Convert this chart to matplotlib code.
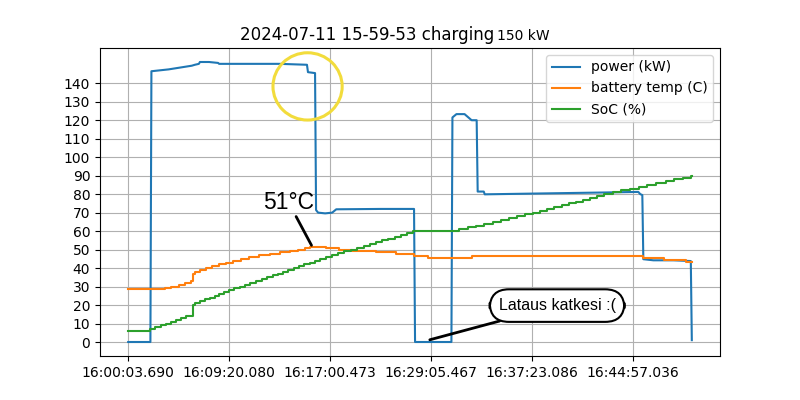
import numpy as np
import matplotlib
matplotlib.use("Agg")
import matplotlib.pyplot as plt
from matplotlib.patches import Ellipse

# sample index -> value (one sample per log row)
power_idx = [0, 22, 23, 40, 63, 66, 70, 71, 80, 89, 90, 150, 177, 178, 185, 186,
             188, 195, 202, 206, 250, 283, 284, 320, 321, 325, 333, 340, 345, 346,
             352, 353, 400, 460, 505, 507, 509, 510, 520, 540, 557, 558]
power_val = [0, 0, 146.5, 147.5, 149.5, 150, 150.5, 151.5, 151.5, 151, 150.5, 150.5, 150, 146, 145.5, 71.4,
             70, 69.6, 70, 71.8, 72, 72, 0, 0, 121.5, 123.3, 123.3, 120, 120, 81.4,
             81.4, 79.9, 80.3, 80.8, 81.2, 80, 79.5, 44.8, 44.2, 44.2, 43.8, 1]

temp_idx = [0, 36, 42, 50, 56, 62, 64, 66, 71, 77, 83, 90, 97, 104, 112, 120, 130,
            140, 150, 160, 168, 175, 180, 196, 209, 222, 245, 265, 283, 297, 340,
            510, 530, 552, 558]
temp_val = [28.5, 29, 30, 31, 32, 33, 37, 38, 39, 40, 41, 42, 43, 44, 45, 46, 47,
            47.5, 48.5, 49.5, 50, 51, 51.5, 51, 50, 49.5, 48.5, 47.5, 46.5, 45.5, 46.5,
            45.5, 44.5, 43.5, 43.5]

soc_idx = [0, 22, 27, 32, 37, 42, 47, 52, 57, 64, 66, 71, 76, 81, 86, 90, 95, 100,
           105, 111, 116, 121, 127, 132, 137, 143, 148, 153, 158, 164, 169, 174, 180, 185, 190,
           196, 202, 208, 214, 221, 227, 233, 239, 245, 251, 257, 264, 270, 276, 282,
           328, 336, 344, 352, 361, 369, 377, 385, 393, 401,
           408, 415, 422, 429, 436, 443, 450, 457, 464, 471,
           480, 488, 497, 506, 514, 523, 532, 540, 549, 557, 558]
soc_val = [6, 7, 8, 9, 10, 11, 12, 13, 14, 20, 21, 22, 23, 24, 25, 26, 27, 28,
           29, 30, 31, 32, 33, 34, 35, 36, 37, 38, 39, 40, 41, 42, 43, 44, 45,
           46, 47, 48, 49, 50, 51, 52, 53, 54, 55, 56, 57, 58, 59, 60,
           61, 62, 63, 64, 65, 66, 67, 68, 69, 70,
           71, 72, 73, 74, 75, 76, 77, 78, 79, 80,
           81, 82, 83, 84, 85, 86, 87, 88, 89, 90, 90]

tick_idx = [0, 100, 200, 300, 400, 500]
tick_labels = ["16:00:03.690", "16:09:20.080", "16:17:00.473",
               "16:29:05.467", "16:37:23.086", "16:44:57.036"]

fig, ax = plt.subplots(figsize=(8, 4), dpi=100)

ax.plot(power_idx, power_val, label="power (kW)")
ax.plot(temp_idx, temp_val, drawstyle="steps-post", label="battery temp (C)")
ax.plot(soc_idx, soc_val, drawstyle="steps-post", label="SoC (%)")

ax.set_xticks(tick_idx)
ax.set_xticklabels(tick_labels)
ax.set_yticks(range(0, 150, 10))
ax.grid(True)
ax.legend(loc="upper right")

# fix the view before the drawn-on marks
ax.autoscale_view()
ax.set_autoscale_on(False)

fig.text(240 / 800, 1 - 40 / 400, "2024-07-11 15-59-53 charging", fontsize=12, va="baseline")
fig.text(497 / 800, 1 - 40 / 400, "150 kW", fontsize=10, va="baseline")

ax.add_patch(Ellipse((177.6, 138.3), 68.5, 36.4, fill=False,
                     edgecolor="#f2dc3c", lw=2.2, zorder=5))

ax.annotate("51°C", xy=(181.5, 52.3), xytext=(158.7, 75.6),
            ha="center", va="center", fontsize=16.5, family="Liberation Sans",
            arrowprops=dict(arrowstyle="-", lw=2, color="black", shrinkA=0, shrinkB=0))

ax.annotate("Lataus katkesi :(", xy=(298.6, 1.2), xytext=(424.6, 19.7),
            ha="center", va="center", fontsize=11.5, family="Liberation Sans",
            bbox=dict(boxstyle="round,pad=0.55,rounding_size=1.2", fc="white", ec="black", lw=1.5),
            arrowprops=dict(arrowstyle="-", lw=2, color="black", shrinkA=0, shrinkB=0))

fig.savefig("out.png")
